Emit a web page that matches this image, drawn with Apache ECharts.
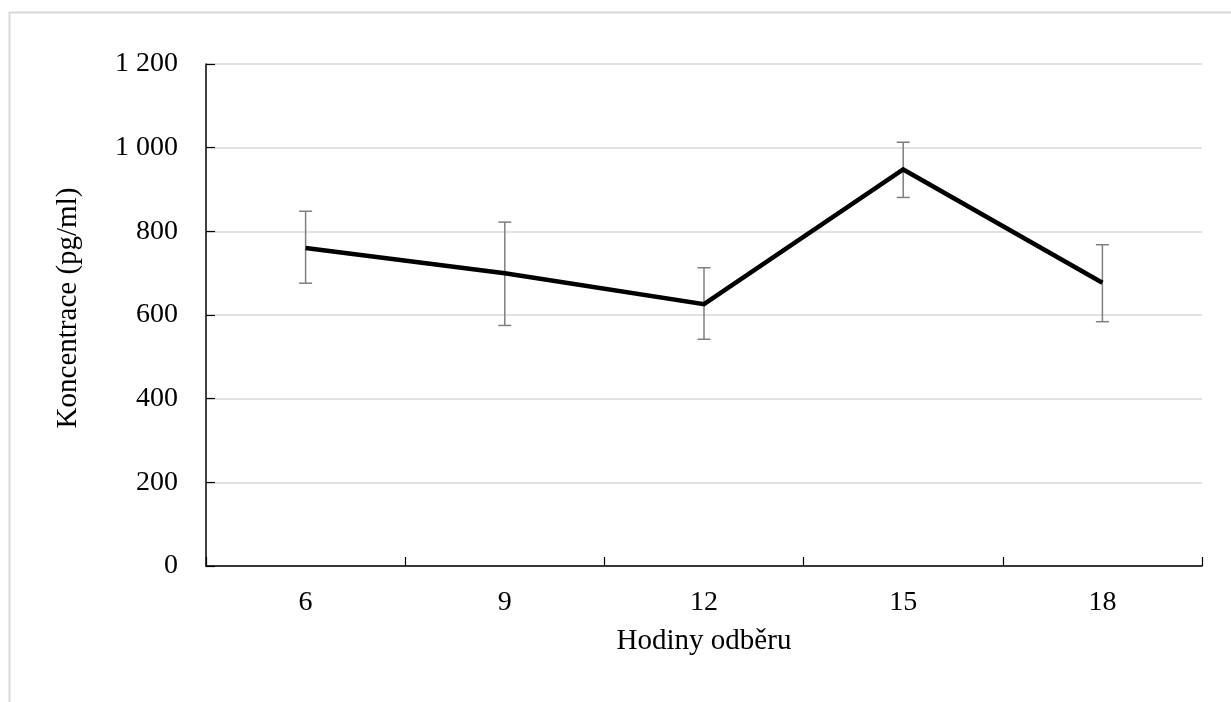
<!DOCTYPE html>
<html>
<head>
<meta charset="utf-8">
<script src="https://cdn.jsdelivr.net/npm/echarts@6/dist/echarts.min.js"></script>
<style>
  html, body { margin: 0; padding: 0; background: #ffffff; }
  #chart { width: 1231px; height: 702px; }
</style>
</head>
<body>
<div id="chart"></div>
<script>
// Sampling hours and mean concentration with its spread
const hours = ['6', '9', '12', '15', '18'];
const meanValues = [760, 700, 626, 948, 677];
const upperValues = [848, 822, 713, 1013, 768];
const lowerValues = [676, 575, 542, 881, 584];

const yTicks = { min: 0, max: 1200, step: 200 };

const serif = '"Liberation Serif", "Times New Roman", serif';

const errorData = hours.map((h, i) => [i, lowerValues[i], upperValues[i]]);

const chart = echarts.init(document.getElementById('chart'), null, { renderer: 'canvas' });

chart.setOption({
  backgroundColor: '#ffffff',
  animation: false,
  graphic: [{
    type: 'rect',
    shape: { x: 9.5, y: 12.5, width: 1300, height: 800 },
    style: { fill: 'none', stroke: '#d9d9d9', lineWidth: 2 },
    silent: true,
    z: -10
  }],
  grid: { left: 206, right: 29, top: 64, bottom: 136, containLabel: false },
  xAxis: {
    type: 'category',
    data: hours,
    boundaryGap: true,
    name: 'Hodiny odběru',
    nameLocation: 'middle',
    nameGap: 61,
    nameTextStyle: { fontFamily: serif, fontSize: 29, color: '#000' },
    axisLine: { lineStyle: { color: '#000', width: 1.5 } },
    axisTick: { show: true, inside: true, length: 9, alignWithLabel: false, lineStyle: { color: '#000', width: 1.2 } },
    axisLabel: { fontFamily: serif, fontSize: 28, color: '#000', margin: 23 },
    splitLine: { show: false }
  },
  yAxis: {
    type: 'value',
    min: yTicks.min,
    max: yTicks.max,
    interval: yTicks.step,
    name: 'Koncentrace (pg/ml)',
    nameLocation: 'middle',
    nameGap: 123,
    nameRotate: 90,
    nameTextStyle: { fontFamily: serif, fontSize: 29, color: '#000', padding: [0, 0, 0, 14] },
    axisLine: { show: true, lineStyle: { color: '#000', width: 1.5 } },
    axisTick: { show: true, inside: true, length: 9, lineStyle: { color: '#000', width: 1.2 } },
    axisLabel: {
      fontFamily: serif, fontSize: 28, color: '#000', margin: 28,
      formatter: v => String(v).replace(/\B(?=(\d{3})+(?!\d))/g, ' ')
    },
    splitLine: { show: true, lineStyle: { color: '#d9d9d9', width: 1.5 } }
  },
  series: [
    {
      name: 'error',
      type: 'custom',
      z: 2,
      data: errorData,
      renderItem: function (params, api) {
        const x = api.value(0);
        const lo = api.coord([x, api.value(1)]);
        const hi = api.coord([x, api.value(2)]);
        const cap = 6.5;
        const style = { stroke: '#7f7f7f', lineWidth: 1.5, fill: 'none' };
        return {
          type: 'group',
          children: [
            { type: 'line', shape: { x1: hi[0], y1: hi[1], x2: lo[0], y2: lo[1] }, style },
            { type: 'line', shape: { x1: hi[0] - cap, y1: hi[1], x2: hi[0] + cap, y2: hi[1] }, style },
            { type: 'line', shape: { x1: lo[0] - cap, y1: lo[1], x2: lo[0] + cap, y2: lo[1] }, style }
          ]
        };
      }
    },
    {
      name: 'mean',
      type: 'line',
      z: 3,
      data: meanValues,
      showSymbol: false,
      symbol: 'none',
      lineStyle: { color: '#000', width: 4.5, join: 'miter' }
    }
  ]
});
</script>
</body>
</html>
